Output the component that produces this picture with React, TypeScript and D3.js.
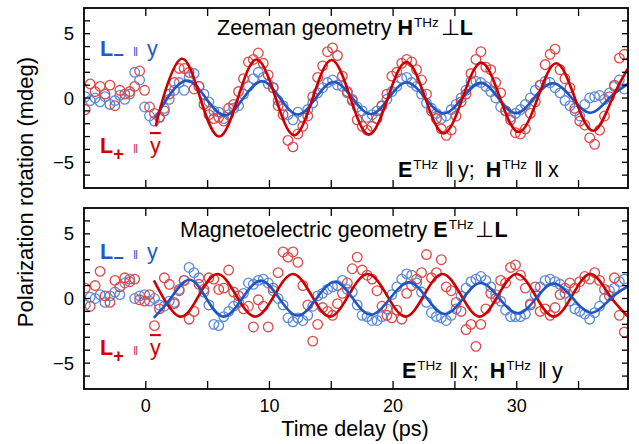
import React from 'react';
import * as d3 from 'd3';

// ---------- data ----------
// measurement grid of the pump-probe delay (ps): first delay and step
const delayStart = -4.9;
const delayStep = 0.4;

// Zeeman geometry, L- || y (blue circles), mdeg
const zeemanBlue = [
  0.1, -0.2, 0.0, -0.3, 0.1, -0.5, -0.2, 0.2, -0.1, 0.3, 2.0, 1.4, -0.7,
  -1.4, -1.8, -1.5, -0.8, -0.1, 0.6, 1.2, 0.6, 1.6, 1.9, 0.9, 0.3, -0.3, -1.0, -1.1, -1.6,
  -1.3, -0.8, -0.6, 0.3, 0.9, 1.5, 2.0, 1.6, 1.1, 0.8, -0.2, -0.6, -1.3, -1.7, -1.1,
  -1.5, -0.9, -0.4, 0.4, 0.8, 1.2, 1.4, 1.0, 0.9, 0.4, -0.1, -0.7, -1.0, -1.5, -1.3,
  -1.0, -0.6, -0.1, 0.5, 0.9, 1.5, 1.6, 1.2, 0.9, 0.3, -0.4, -0.8, -1.2, -1.6, -1.4,
  -0.9, -0.5, 0.0, 0.6, 1.3, 1.3, 1.2, 0.9, 0.5, 0.0, -0.7, -1.0, -1.5, -1.2, -0.9,
  -0.5, 0.0, 0.6, 1.0, 1.3, 1.2, 0.8, 0.4, -0.2, -0.6, -1.0, -1.4, -0.5, 0.0, 0.1,
  0.2, -0.1, 0.4, 0.9, 1.4, 0.7,
];
// Zeeman geometry, L+ || -y (red circles)
const zeemanRed = [
  -0.9, 1.1, 0.5, 0.9, 0.3, 1.0, -0.6, 0.6, 0.3, 0.5, 0.9, 2.1, 0.6,
  -0.7, -1.2, -1.5, -1.0, 0.3, 1.2, 2.3, 2.3, 2.0, 0.7, 0.9, -0.5, -1.3, -1.6, -1.5, -1.8,
  -0.8, -0.5, 0.5, 1.5, 2.8, 3.0, 3.5, 2.7, 1.8, 0.8, -0.6, -1.3, -3.3, -3.8, -2.8,
  -2.2, -1.4, 0.1, 1.6, 2.5, 3.6, 3.9, 3.3, 1.7, 0.5, -0.2, -1.7, -2.2, -2.5, -2.2,
  -1.6, -0.6, 0.3, 1.7, 2.0, 2.7, 3.0, 2.8, 2.2, 1.4, 0.3, -1.0, -1.6, -2.4, -2.9,
  -2.5, -1.4, -0.3, 0.3, 1.9, 3.0, 3.6, 2.4, 2.2, 1.2, 0.4, -1.0, -1.7, -2.7, -2.8,
  -2.4, -1.2, -0.3, 1.0, 2.6, 3.4, 3.8, 2.2, 1.5, 0.8, -0.8, -1.8, -2.1, -3.1, -3.6,
  -2.5, -1.4, 0.1, 1.0, 3.1, 3.4,
];
// Magnetoelectric geometry, L- || y (blue circles)
const meBlue = [
  -0.5, 0.1, 0.0, 0.3, -0.3, 0.2, 0.5, 0.3, 1.2, 1.5, 0.0, 0.2, 0.3,
  -0.2, 0.0, -0.5, -0.6, -0.2, -0.3, 0.7, 1.4, 2.4, 2.0, 1.6, 0.5, -0.5, -2.0, -2.1, -1.4,
  -1.0, -0.6, -0.3, 0.4, 1.2, 1.1, 1.4, 1.5, 1.2, 0.6, 0.0, -0.5, -1.5, -1.8, -1.5,
  -1.7, -1.3, -0.6, 0.2, 0.4, 0.7, 0.9, 1.0, 1.4, 0.7, 0.5, -0.5, -1.3, -1.4, -1.7,
  -1.7, -1.4, -0.8, 0.3, 0.9, 1.5, 1.9, 1.8, 1.2, 0.5, -0.3, -1.1, -1.4, -1.5, -1.7,
  -1.3, -0.8, 0.2, 0.8, 1.3, 1.5, 1.7, 1.4, 0.9, 0.3, -0.2, -0.9, -1.4, -1.4, -1.4,
  -1.2, -0.4, 0.3, 0.9, 1.4, 1.5, 1.3, 1.1, 0.4, -0.2, -0.8, -1.0, -1.2, -1.6, -1.1,
  -0.6, 0.0, 0.6, 0.8, 1.3, 1.5,
];
// Magnetoelectric geometry, L+ || -y (red circles)
const meRed = [
  0.8, -0.6, 1.0, 2.1, 0.2, -0.3, 1.4, 0.9, 1.6, 1.3, 1.5, -0.1, -0.2,
  0.3, -2.1, -0.8, 1.6, 1.1, -0.4, 0.6, 1.4, -1.6, -1.0, 1.1, 0.7, 1.6, 1.5, 0.7, 0.8,
  2.2, 0.5, 0.2, -0.8, -0.6, -2.2, -0.1, -0.6, -2.2, 0.8, 2.0, 3.6, 3.2, 3.6, 2.8,
  1.0, -0.5, -3.3, -2.0, -0.7, -1.0, -1.3, -0.4, 0.4, 1.2, 2.3, 3.2, 2.2, 1.8, 1.5,
  0.6, -0.6, -1.3, -1.5, -0.9, -1.6, 0.4, 1.0, 1.5, 2.0, 3.4, 1.6, 2.0, 3.0, 0.9,
  0.6, -0.3, -1.0, -2.4, -2.0, -3.7, -2.0, -0.8, 0.4, 0.0, 1.4, 1.2, 2.4, 2.6, 1.8,
  0.8, -0.5, 0.9, -1.0, -0.8, -1.3, -0.7, 0.3, 0.8, 1.2, 0.8, 1.3, 1.7, 1.5, 2.0,
  1.4, 0.7, 0.2, 1.6, -1.3, -2.6,
];

// fitted curves: knots [delay, value] at start, extrema and crossings
const zeemanRedFit: [number, number][] = [
  [0.8, -2.2], [1.4, 0], [2.9, 3.05], [4.4, 0], [5.93, -3.0], [7.45, 0], [8.96, 3.0],
  [10.5, 0], [12.0, -2.9], [13.5, 0], [15.02, 2.95], [16.55, 0], [18.05, -2.85],
  [19.57, 0], [21.08, 2.8], [22.6, 0], [24.1, -2.75], [25.62, 0], [27.14, 2.75],
  [28.65, 0], [30.17, -2.65], [31.7, 0], [33.2, 2.7], [34.7, 0], [36.23, -2.55],
  [37.75, 0], [39, 2.3],
];
const zeemanBlueFit: [number, number][] = [
  [0.8, -1.55], [1.75, 0], [3.3, 1.35], [4.85, 0], [6.4, -1.35], [7.9, 0], [9.4, 1.3],
  [10.85, 0], [12.3, -1.28], [13.75, 0], [15.2, 1.25], [16.7, 0], [18.2, -1.25],
  [19.65, 0], [21.1, 1.2], [22.6, 0], [24.1, -1.2], [25.6, 0], [27.1, 1.18], [28.5, 0],
  [29.95, -1.18], [31.4, 0], [32.9, 1.15], [34.45, 0], [36.0, -1.15], [37.5, 0], [39, 1.1],
];
const meRedFit: [number, number][] = [
  [0.65, 1.4], [1.3, 0.25], [2.8, -1.4], [4.3, 0.25], [5.8, 1.9], [7.3, 0.25],
  [8.85, -1.4], [10.4, 0.25], [11.9, 1.9], [13.4, 0.25], [14.9, -1.4], [16.4, 0.25],
  [17.95, 1.9], [19.5, 0.25], [21.0, -1.4], [22.5, 0.25], [24.0, 1.9], [25.5, 0.25],
  [27.0, -1.4], [28.5, 0.25], [30.0, 1.9], [31.5, 0.25], [33.0, -1.4], [34.5, 0.25],
  [36.0, 1.9], [37.5, 0.25], [39, -1.4],
];
const meBlueFit: [number, number][] = [
  [0.65, -1.5], [2.0, 0], [3.5, 1.45], [4.9, 0], [6.3, -1.4], [7.8, 0], [9.3, 1.38],
  [10.8, 0], [12.3, -1.32], [13.8, 0], [15.3, 1.3], [16.75, 0], [18.2, -1.25],
  [19.75, 0], [21.3, 1.25], [22.75, 0], [24.2, -1.2], [25.65, 0], [27.1, 1.2],
  [28.6, 0], [30.1, -1.15], [31.55, 0], [33.0, 1.15], [34.55, 0], [36.1, -1.1],
  [37.6, 0], [39, 0.95],
];

const xTickValues = [0, 5, 10, 15, 20, 25, 30, 35];
const xLabelValues = [0, 10, 20, 30];
const yTickValues = [-6, -5, -4, -3, -2, -1, 0, 1, 2, 3, 4, 5, 6];
const yLabelValues = [-5, 0, 5];

// ---------- styling ----------
const FONT = "'Liberation Sans', Arial, Helvetica, sans-serif";
const BLUE_LINE = '#1f55c0';
const RED_LINE = '#cc0000';
const BLUE_DOT = '#5b8ad8';
const RED_DOT = '#e04848';
const BLUE_TXT = '#1f5bc8';
const RED_TXT = '#d40000';

const W = 639;
const H = 444;
const LEFT = 84;
const RIGHT = 628;

const x = d3.scaleLinear().domain([-5, 39]).range([LEFT, RIGHT]);

function toPoints(vals: number[]) {
  return vals.map((v, i) => [delayStart + i * delayStep, v] as [number, number]);
}

type PanelProps = {
  id: string;
  top: number;
  bottom: number;
  blue: number[];
  red: number[];
  blueFit: [number, number][];
  redFit: [number, number][];
  redLineFirst?: boolean;
  showXLabels: boolean;
};

function Panel({ id, top, bottom, blue, red, blueFit, redFit, redLineFirst, showXLabels }: PanelProps) {
  const y = d3.scaleLinear().domain([-7, 7]).range([bottom, top]);
  const line = d3
    .line<[number, number]>()
    .x((d) => x(d[0]))
    .y((d) => y(d[1]))
    .curve(d3.curveNatural);
  const bluePts = toPoints(blue);
  const redPts = toPoints(red);
  const blueLine = <path d={line(blueFit) || ''} fill="none" stroke={BLUE_LINE} strokeWidth={2.6} />;
  const redLine = <path d={line(redFit) || ''} fill="none" stroke={RED_LINE} strokeWidth={2.6} />;
  return (
    <g>
      <defs>
        <clipPath id={id}>
          <rect x={LEFT} y={top} width={RIGHT - LEFT} height={bottom - top} />
        </clipPath>
      </defs>
      <g clipPath={`url(#${id})`}>
        {bluePts.map((d, i) => (
          <circle key={'b' + i} cx={x(d[0])} cy={y(d[1])} r={4.8} fill="none" stroke={BLUE_DOT} strokeWidth={1.3} />
        ))}
        {redPts.map((d, i) => (
          <circle key={'r' + i} cx={x(d[0])} cy={y(d[1])} r={4.8} fill="none" stroke={RED_DOT} strokeWidth={1.3} />
        ))}
        {redLineFirst ? redLine : blueLine}
        {redLineFirst ? blueLine : redLine}
      </g>
      {xTickValues.map((t) => (
        <g key={'xt' + t}>
          <line x1={x(t)} x2={x(t)} y1={bottom} y2={bottom - 8} stroke="#000" strokeWidth={1.3} />
          <line x1={x(t)} x2={x(t)} y1={top} y2={top + 8} stroke="#000" strokeWidth={1.3} />
        </g>
      ))}
      {yTickValues.map((t) => (
        <g key={'yt' + t}>
          <line x1={LEFT} x2={LEFT + 6} y1={y(t)} y2={y(t)} stroke="#000" strokeWidth={1.3} />
          <line x1={RIGHT} x2={RIGHT - 6} y1={y(t)} y2={y(t)} stroke="#000" strokeWidth={1.3} />
        </g>
      ))}
      <rect x={LEFT} y={top} width={RIGHT - LEFT} height={bottom - top} fill="none" stroke="#000" strokeWidth={1.8} />
      {yLabelValues.map((t) => (
        <text key={'yl' + t} x={LEFT - 10} y={y(t) + 6.6} textAnchor="end" fontSize={18.5} fontFamily={FONT} fill="#000">
          {t < 0 ? '\u2212' + Math.abs(t) : String(t)}
        </text>
      ))}
      {showXLabels &&
        xLabelValues.map((t) => (
          <text key={'xl' + t} x={x(t)} y={bottom + 23} textAnchor="middle" fontSize={18} fontFamily={FONT} fill="#000">
            {t}
          </text>
        ))}
    </g>
  );
}

function LMinus({ xPos, yPos }: { xPos: number; yPos: number }) {
  return (
    <text x={xPos} y={yPos} fontSize={21.5} fontFamily={FONT} fill={BLUE_TXT}>
      <tspan fontWeight="bold">L</tspan>
      <tspan fontWeight="bold" fontSize={18} dy={5}>{'\u2212'}</tspan>
      <tspan x={xPos + 33} dy={-5} fontSize={12.5}>{'\u01C1'}</tspan>
      <tspan x={xPos + 47}>y</tspan>
    </text>
  );
}

function LPlus({ xPos, yPos }: { xPos: number; yPos: number }) {
  return (
    <text x={xPos} y={yPos} fontSize={21.5} fontFamily={FONT} fill={RED_TXT}>
      <tspan fontWeight="bold">L</tspan>
      <tspan fontWeight="bold" fontSize={18} dy={7}>+</tspan>
      <tspan x={xPos + 33} dy={-7} fontSize={12.5} fill="#c8306a">{'\u01C1'}</tspan>
      <tspan x={xPos + 50} style={{ textDecoration: 'overline' }}>y</tspan>
    </text>
  );
}

function FieldNote({ xPos, yPos, a, av, b, bv }: { xPos: number; yPos: number; a: string; av: string; b: string; bv: string }) {
  return (
    <text x={xPos} y={yPos} fontSize={21.5} fontFamily={FONT} fill="#000">
      <tspan fontWeight="bold">{a}</tspan>
      <tspan fontSize={13.5} dy={-8} dx={1}>THz</tspan>
      <tspan dy={8} dx={7}>{'\u01C1'}</tspan>
      <tspan dx={4}>{av + ';'}</tspan>
      <tspan dx={11} fontWeight="bold">{b}</tspan>
      <tspan fontSize={13.5} dy={-8} dx={1}>THz</tspan>
      <tspan dy={8} dx={7}>{'\u01C1'}</tspan>
      <tspan dx={5}>{bv}</tspan>
    </text>
  );
}

function Title({ xPos, yPos, text, field }: { xPos: number; yPos: number; text: string; field: string }) {
  return (
    <text x={xPos} y={yPos} fontSize={21.5} fontFamily={FONT} fill="#000">
      {text + ' '}
      <tspan fontWeight="bold">{field}</tspan>
      <tspan fontSize={13.5} dy={-8} dx={1}>THz</tspan>
      <tspan dy={8} dx={2}>{'\u22A5'}</tspan>
      <tspan fontWeight="bold">L</tspan>
    </text>
  );
}

export default function App() {
  return (
    <svg
      width={W}
      height={H}
      viewBox={`0 0 ${W} ${H}`}
      style={{ position: 'absolute', left: 0, top: 0, background: '#fff' }}
    >
      <rect x={0} y={0} width={W} height={H} fill="#fff" />
      <Panel
        id="clipTop"
        top={8}
        bottom={188}
        blue={zeemanBlue}
        red={zeemanRed}
        blueFit={zeemanBlueFit}
        redFit={zeemanRedFit}
        showXLabels={false}
      />
      <Panel
        id="clipBottom"
        top={208}
        bottom={389}
        blue={meBlue}
        red={meRed}
        blueFit={meBlueFit}
        redFit={meRedFit}
        redLineFirst
        showXLabels
      />
      <Title xPos={217} yPos={35} text="Zeeman geometry" field="H" />
      <Title xPos={180} yPos={237} text="Magnetoelectric geometry" field="E" />
      <LMinus xPos={100} yPos={56} />
      <LPlus xPos={100} yPos={153} />
      <LMinus xPos={100} yPos={259} />
      <LPlus xPos={100} yPos={355} />
      <FieldNote xPos={398} yPos={177} a="E" av="y" b="H" bv="x" />
      <FieldNote xPos={402} yPos={378} a="E" av="x" b="H" bv="y" />
      <text
        transform="translate(33,192) rotate(-90)"
        textAnchor="middle"
        fontSize={22}
        fontFamily={FONT}
        fill="#000"
      >
        Polarization rotation (mdeg)
      </text>
      <text x={355} y={436} textAnchor="middle" fontSize={21.5} fontFamily={FONT} fill="#000">
        Time delay (ps)
      </text>
    </svg>
  );
}
